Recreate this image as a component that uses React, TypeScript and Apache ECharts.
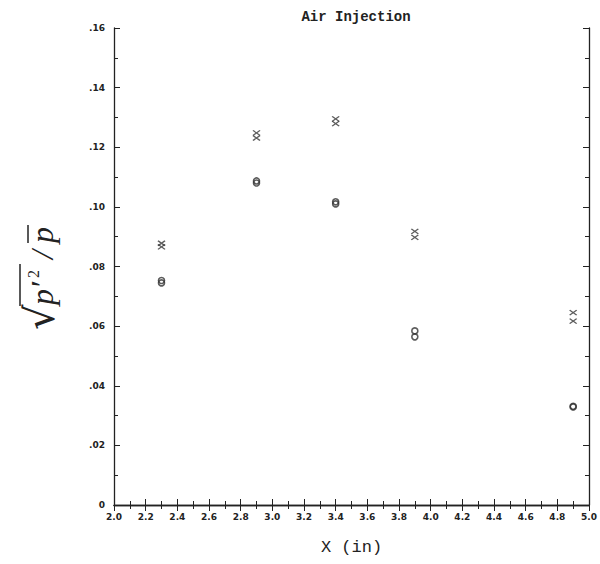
import React, { useEffect, useRef } from "react";
import * as echarts from "echarts";

const xPositions = [2.3, 2.9, 3.4, 3.9, 4.9];
const crossUpper = [0.0878, 0.1248, 0.1295, 0.0918, 0.0645];
const crossLower = [0.0866, 0.1231, 0.1279, 0.0898, 0.0617];
const circleUpper = [0.0753, 0.1087, 0.1017, 0.0584, 0.0331];
const circleLower = [0.0745, 0.108, 0.101, 0.0564, 0.0329];
const titleText = "Air Injection";
const xTitle = "X (in)";

const CROSS = "path://M0,0L10,10M10,0L0,10";

export default function App() {
  const ref = useRef<HTMLDivElement>(null);
  useEffect(() => {
    const chart = echarts.init(ref.current!, null, { renderer: "svg" });
    const pair = (ys: number[]) => xPositions.map((x, i) => [x, ys[i]]);
    const crossStyle = {
      type: "scatter",
      symbol: CROSS,
      symbolSize: [7, 5],
      itemStyle: { color: "transparent", borderColor: "#333", borderWidth: 1.3 },
      xAxisIndex: 0,
      yAxisIndex: 0,
    };
    const circleStyle = {
      type: "scatter",
      symbol: "circle",
      symbolSize: [6, 6],
      itemStyle: { color: "transparent", borderColor: "#333", borderWidth: 1.6 },
      xAxisIndex: 0,
      yAxisIndex: 0,
    };
    const labelFont = { fontSize: 9, fontWeight: "bold" as const, fontFamily: "DejaVu Sans", color: "#222" };
    const axisLine = { show: true, lineStyle: { color: "#222", width: 1.3 } };
    const xBase = {
      type: "value",
      min: 2,
      max: 5,
      interval: 0.2,
      axisLine,
      splitLine: { show: false },
      axisTick: { show: true, inside: true, length: 6, lineStyle: { color: "#222" } },
      minorTick: { show: true, splitNumber: 2, length: 4, lineStyle: { color: "#222" } },
    };
    const yBase = {
      type: "value",
      min: 0,
      max: 0.16,
      interval: 0.02,
      axisLine,
      splitLine: { show: false },
      axisTick: { show: true, inside: true, length: 6, lineStyle: { color: "#222" } },
      minorTick: { show: true, splitNumber: 2, length: 4, lineStyle: { color: "#222" } },
    };
    chart.setOption({
      animation: false,
      backgroundColor: "#fff",
      title: {
        text: titleText,
        left: 351,
        textAlign: "center",
        top: 5,
        textStyle: { fontFamily: "Liberation Mono", fontSize: 14, fontWeight: "bold", color: "#222" },
      },
      grid: { left: 114, top: 28, width: 475, height: 477 },
      xAxis: [
        {
          ...xBase,
          position: "bottom",
          axisLabel: { ...labelFont, margin: 7, formatter: (v: number) => v.toFixed(1) },
          name: xTitle,
          nameLocation: "middle",
          nameGap: 34,
          nameTextStyle: { fontFamily: "Liberation Mono", fontSize: 17, color: "#222" },
        },
        { ...xBase, position: "top", axisLabel: { show: false } },
      ],
      yAxis: [
        {
          ...yBase,
          position: "left",
          axisLabel: {
            ...labelFont,
            margin: 9,
            formatter: (v: number) => (v === 0 ? "0" : "." + v.toFixed(2).split(".")[1]),
          },
        },
        { ...yBase, position: "right", axisLabel: { show: false } },
      ],
      series: [
        { ...crossStyle, data: pair(crossUpper) },
        { ...crossStyle, data: pair(crossLower) },
        { ...circleStyle, data: pair(circleUpper) },
        { ...circleStyle, data: pair(circleLower) },
      ],
      graphic: [
        {
          type: "group",
          x: 40,
          y: 276,
          rotation: Math.PI / 2,
          children: [
            { type: "text", x: -54, y: 0, style: { text: "√", font: "40px 'DejaVu Serif'", fill: "#222", verticalAlign: "middle" } },
            { type: "line", shape: { x1: -30, y1: -20, x2: 12, y2: -20 }, style: { stroke: "#222", lineWidth: 1.5 } },
            { type: "text", x: -29, y: 2, style: { text: "p′", font: "italic 32px 'Liberation Serif'", fill: "#222", verticalAlign: "middle" } },
            { type: "text", x: -2, y: -7, style: { text: "2", font: "16px 'Liberation Serif'", fill: "#222", verticalAlign: "middle" } },
            { type: "text", x: 17, y: 2, style: { text: "/", font: "italic 32px 'Liberation Serif'", fill: "#222", verticalAlign: "middle" } },
            { type: "text", x: 33, y: 2, style: { text: "p", font: "italic 32px 'Liberation Serif'", fill: "#222", verticalAlign: "middle" } },
            { type: "line", shape: { x1: 33, y1: -12, x2: 51, y2: -12 }, style: { stroke: "#222", lineWidth: 1.5 } },
          ],
        },
      ],
    });
    return () => chart.dispose();
  }, []);
  return <div ref={ref} style={{ width: 600, height: 564, position: "absolute", left: 0, top: 0 }} />;
}
